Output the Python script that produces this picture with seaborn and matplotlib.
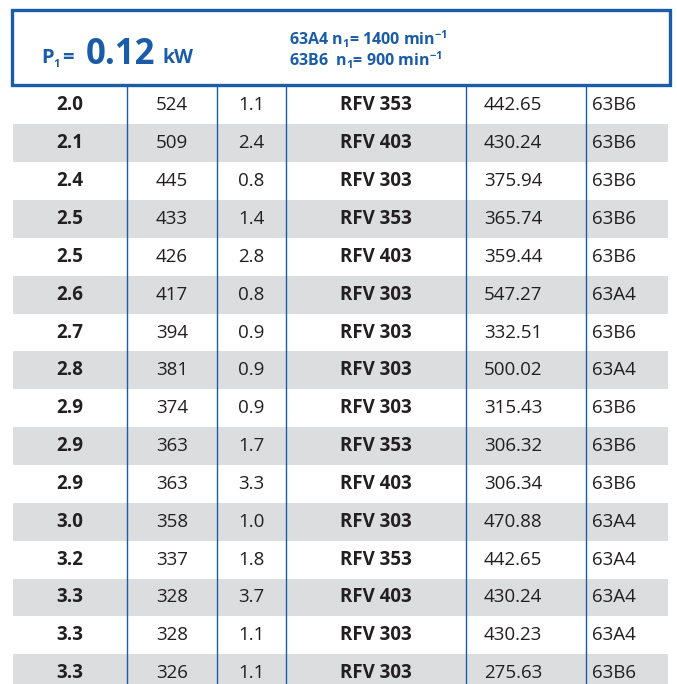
import matplotlib
matplotlib.use("Agg")
import matplotlib.pyplot as plt
import seaborn as sns
import numpy as np
from matplotlib.patches import Rectangle

# table values
ratio = ["2.0", "2.1", "2.4", "2.5", "2.5", "2.6", "2.7", "2.8", "2.9", "2.9",
         "2.9", "3.0", "3.2", "3.3", "3.3", "3.3"]
torque = ["524", "509", "445", "433", "426", "417", "394", "381", "374", "363",
          "363", "358", "337", "328", "328", "326"]
service = ["1.1", "2.4", "0.8", "1.4", "2.8", "0.8", "0.9", "0.9", "0.9", "1.7",
           "3.3", "1.0", "1.8", "3.7", "1.1", "1.1"]
model = ["RFV 353", "RFV 403", "RFV 303", "RFV 353", "RFV 403", "RFV 303", "RFV 303",
         "RFV 303", "RFV 303", "RFV 353", "RFV 403", "RFV 303", "RFV 353", "RFV 403",
         "RFV 303", "RFV 303"]
i_exact = ["442.65", "430.24", "375.94", "365.74", "359.44", "547.27", "332.51", "500.02",
           "315.43", "306.32", "306.34", "470.88", "442.65", "430.24", "430.23", "275.63"]
motor = ["63B6", "63B6", "63B6", "63B6", "63B6", "63A4", "63B6", "63A4", "63B6", "63B6",
         "63B6", "63A4", "63A4", "63A4", "63A4", "63B6"]

sns.set_theme(style="white")
plt.rcParams['font.family'] = ['Open Sans', 'DejaVu Sans']

blue = "#1a5ca8"
grey = "#dcdddf"
txt = "#231f20"

fig = plt.figure(figsize=(6.77, 6.84), dpi=100)
ax = fig.add_axes([0, 0, 1, 1])
ax.set_xlim(0, 677)
ax.set_ylim(684, 0)
ax.axis("off")

n = len(ratio)
row_h = 37.85
top = 86.5
y_edges = top + row_h * np.arange(n + 1)
x_edges = [13, 668]
shade = (np.arange(n) % 2).reshape(-1, 1).astype(float)
ax.pcolormesh(x_edges, y_edges, shade, cmap=matplotlib.colors.ListedColormap(["white", grey]),
              vmin=0, vmax=1)

# column separators
for x in [127, 217, 286, 466, 586]:
    ax.plot([x, x], [86, 684], color=blue, lw=1.0)

# header box
ax.add_patch(Rectangle((12, 10), 658, 75, fill=False, edgecolor=blue, lw=2.4, zorder=5))
ax.text(41, 63, "P", color=blue, fontsize=14.5, fontweight="bold", va="baseline")
ax.text(53, 67, "1", color=blue, fontsize=8, fontweight="bold", va="baseline")
ax.text(62, 63, "=", color=blue, fontsize=14.5, fontweight="bold", va="baseline")
ax.text(86, 64, "0.12", color=blue, fontsize=25, fontweight="bold", va="baseline")
ax.text(162, 63, "kW", color=blue, fontsize=14, fontweight="bold", va="baseline")
ax.text(289, 45, r"63A4 n$_{\mathregular{1}}$= 1400 min$^{\mathregular{-1}}$", color=blue,
        fontsize=11.5, fontweight="bold", va="baseline")
ax.text(289, 66, r"63B6  n$_{\mathregular{1}}$= 900 min$^{\mathregular{-1}}$", color=blue,
        fontsize=11.5, fontweight="bold", va="baseline")

cols = [(70, ratio, "bold"), (172, torque, "normal"), (251, service, "normal"),
        (376, model, "bold"), (513, i_exact, "normal"), (614, motor, "normal")]
for xc, vals, w in cols:
    for i, v in enumerate(vals):
        yc = top + row_h * (i + 0.5)
        ax.text(xc, yc, v, ha="center", va="center", fontsize=13.5, color=txt,
                fontweight=w)

fig.savefig("out.png", dpi=100)
